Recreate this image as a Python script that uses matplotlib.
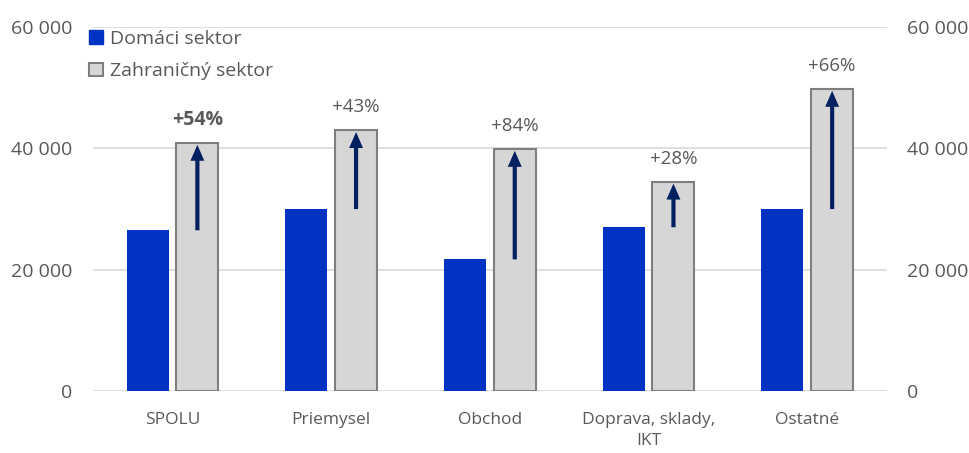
import matplotlib
matplotlib.use("Agg")
import matplotlib.pyplot as plt
from matplotlib.patches import Patch
import numpy as np

categories = ["SPOLU", "Priemysel", "Obchod", "Doprava, sklady,\nIKT", "Ostatné"]
domestic = [26500, 30000, 21700, 27000, 30000]
foreign = [40900, 43000, 39900, 34500, 49800]
pct_labels = ["+54%", "+43%", "+84%", "+28%", "+66%"]
yticks = [0, 20000, 40000, 60000]
ytick_labels = ["0", "20 000", "40 000", "60 000"]

plt.rcParams['font.family'] = ['Open Sans', 'DejaVu Sans']
txt = "#595959"
blue = "#0033c4"
gray_fill = "#d6d6d6"
gray_edge = "#7f7f7f"
navy = "#002060"

fig = plt.figure(figsize=(9.7, 4.53), dpi=100)
ax = fig.add_axes([0.096, 0.137, 0.818, 0.803])

x = np.arange(len(categories))
w = 0.265
off = 0.157
ax.bar(x - off, domestic, w, color=blue, zorder=3)
ax.bar(x + off, foreign, w, color=gray_fill, edgecolor=gray_edge, linewidth=1.5, zorder=3)

for i in range(len(categories)):
    ax.annotate("", xy=(x[i] + off, foreign[i] - 300), xytext=(x[i] + off, domestic[i]),
                arrowprops=dict(arrowstyle="simple,head_width=1.0,head_length=1.15,tail_width=0.3",
                                mutation_scale=10, color=navy, lw=0, shrinkA=0, shrinkB=0), zorder=4)
    ax.annotate(pct_labels[i], xy=(x[i] + off, foreign[i]), xytext=(0, 16.5),
                textcoords="offset points", ha="center", va="center",
                fontsize=14 if i == 0 else 13.5, color=txt,
                fontweight="bold" if i == 0 else "normal")

ax.set_xlim(-0.5, len(categories) - 0.5)
ax.set_ylim(0, 60000)
ax.set_yticks(yticks)
ax.set_yticklabels(ytick_labels)
ax.yaxis.grid(True, color="#d9d9d9", linewidth=1.2, zorder=0)
ax.set_axisbelow(True)
for s in ax.spines.values():
    s.set_visible(False)
ax.tick_params(axis="y", length=0, pad=15, labelsize=14, labelcolor=txt)
ax.set_xticks(x)
ax.set_xticklabels(categories, linespacing=1.45)
ax.tick_params(axis="x", length=0, pad=15, labelsize=12.5, labelcolor=txt)

ax2 = ax.twinx()
ax2.set_ylim(0, 60000)
ax2.set_yticks(yticks)
ax2.set_yticklabels(ytick_labels)
for s in ax2.spines.values():
    s.set_visible(False)
ax2.tick_params(axis="y", length=0, pad=15, labelsize=14, labelcolor=txt)

handles = [Patch(facecolor=blue, edgecolor=blue, label="Domáci sektor"),
           Patch(facecolor=gray_fill, edgecolor=gray_edge, linewidth=1.5, label="Zahraničný sektor")]
ax.legend(handles=handles, loc="upper left", bbox_to_anchor=(-0.02, 1.025), frameon=False,
          fontsize=14, labelcolor=txt, handlelength=0.7, handleheight=0.7,
          handletextpad=0.4, labelspacing=0.75, borderaxespad=0.2)

fig.savefig("out.png", dpi=100)
